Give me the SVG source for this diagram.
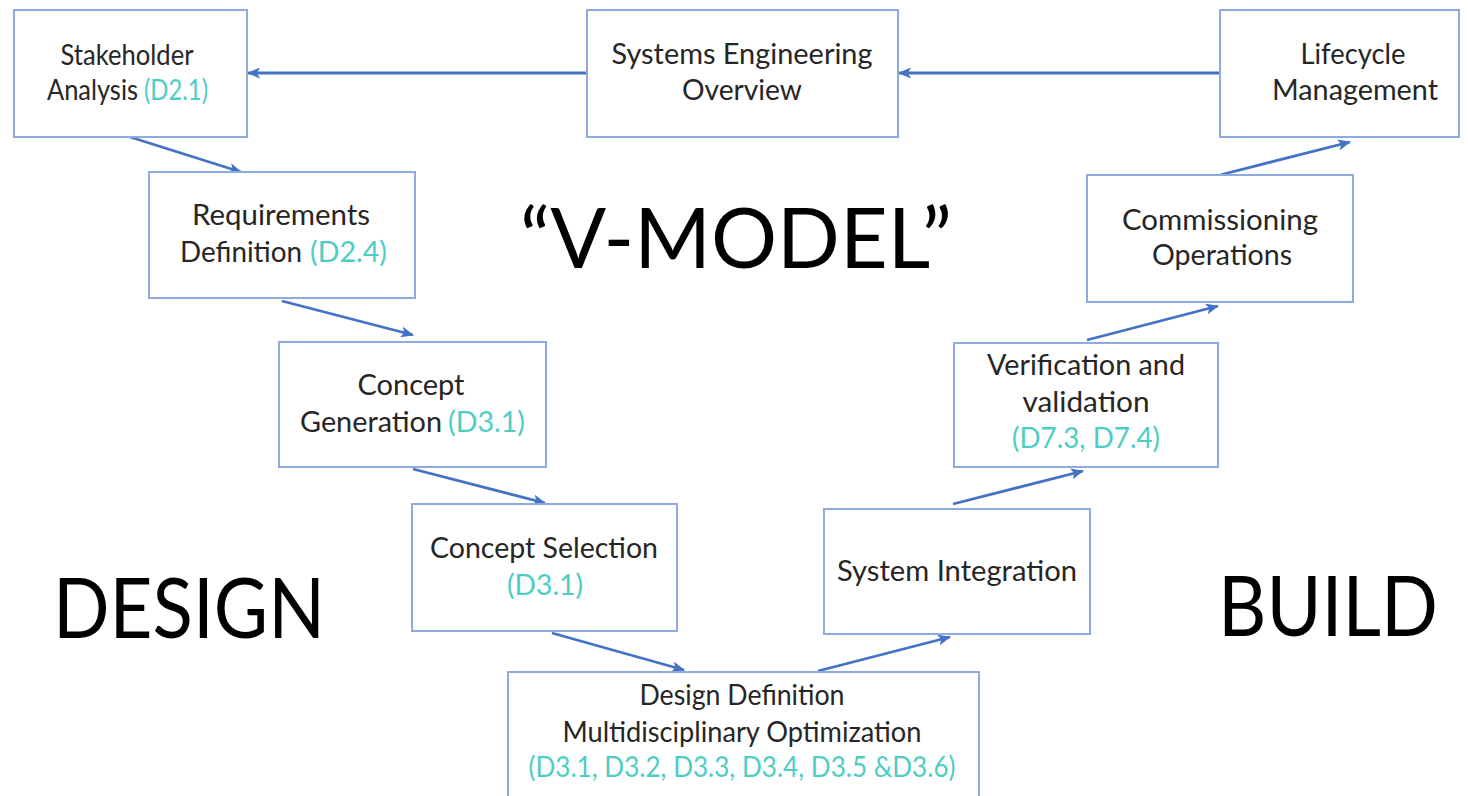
<svg xmlns="http://www.w3.org/2000/svg" width="1468" height="796" viewBox="0 0 1468 796">
  <style>
    .box { fill: #ffffff; stroke: #8faadc; stroke-width: 2; }
    .lbl { font-family: Lato, "Open Sans", "Liberation Sans", sans-serif; font-size: 28px; fill: #262626; text-anchor: middle; }
    .lft { text-anchor: start; }
    .ref { fill: #4ecdc4; }
    .big { font-family: Lato, "Open Sans", "Liberation Sans", sans-serif; font-size: 84px; fill: #000000; }
    .conn { stroke: #4472c4; stroke-width: 2.8; fill: none; marker-end: url(#head); }
  </style>
  <defs>
    <marker id="head" markerUnits="userSpaceOnUse" markerWidth="13" markerHeight="11" refX="12" refY="5.5" orient="auto">
      <path d="M0,0 L13,5.5 L0,11 L3,5.5 z" fill="#4472c4"/>
    </marker>
  </defs>
  <rect width="1468" height="796" fill="#ffffff"/>

  <!-- Section titles -->
  <text class="big" x="736" y="268" text-anchor="middle" textLength="432" lengthAdjust="spacingAndGlyphs">“V-MODEL”</text>
  <text class="big" x="53" y="638" textLength="272" lengthAdjust="spacingAndGlyphs">DESIGN</text>
  <text class="big" x="1218" y="636" textLength="220" lengthAdjust="spacingAndGlyphs">BUILD</text>

  <!-- Connectors -->
  <g id="connectors">
    <line class="conn" x1="587" y1="73" x2="248" y2="73"/>
    <line class="conn" x1="1220" y1="73" x2="899" y2="73"/>
    <line class="conn" x1="130" y1="137" x2="241" y2="172"/>
    <line class="conn" x1="282" y1="301" x2="413" y2="335"/>
    <line class="conn" x1="413" y1="469" x2="545" y2="503"/>
    <line class="conn" x1="552" y1="633" x2="684" y2="670"/>
    <line class="conn" x1="818" y1="671" x2="950" y2="637"/>
    <line class="conn" x1="953" y1="504" x2="1083" y2="471"/>
    <line class="conn" x1="1087" y1="340" x2="1218" y2="306"/>
    <line class="conn" x1="1220" y1="175" x2="1350" y2="142"/>
  </g>

  <!-- Nodes -->
  <g id="stakeholder-analysis">
    <rect class="box" x="14" y="10" width="233" height="127"/>
    <text class="lbl" x="127" y="65" textLength="133" lengthAdjust="spacingAndGlyphs">Stakeholder</text>
    <text class="lbl lft" x="47" y="100" textLength="91" lengthAdjust="spacingAndGlyphs">Analysis</text>
    <text class="lbl lft ref" x="144" y="100" textLength="64" lengthAdjust="spacingAndGlyphs">(D2.1)</text>
  </g>

  <g id="systems-engineering-overview">
    <rect class="box" x="587" y="10" width="311" height="127"/>
    <text class="lbl" x="742" y="64" textLength="261" lengthAdjust="spacingAndGlyphs">Systems Engineering</text>
    <text class="lbl" x="742" y="100" textLength="120" lengthAdjust="spacingAndGlyphs">Overview</text>
  </g>

  <g id="lifecycle-management">
    <rect class="box" x="1220" y="10" width="239" height="127"/>
    <text class="lbl" x="1353" y="64" textLength="105" lengthAdjust="spacingAndGlyphs">Lifecycle</text>
    <text class="lbl" x="1355" y="100" textLength="166" lengthAdjust="spacingAndGlyphs">Management</text>
  </g>

  <g id="requirements-definition">
    <rect class="box" x="149" y="172" width="266" height="126"/>
    <text class="lbl" x="281" y="225" textLength="178" lengthAdjust="spacingAndGlyphs">Requirements</text>
    <text class="lbl lft" x="180" y="262" textLength="122" lengthAdjust="spacingAndGlyphs">Definition</text>
    <text class="lbl lft ref" x="310" y="262" textLength="77" lengthAdjust="spacingAndGlyphs">(D2.4)</text>
  </g>

  <g id="concept-generation">
    <rect class="box" x="279" y="342" width="267" height="125"/>
    <text class="lbl" x="411" y="395" textLength="107" lengthAdjust="spacingAndGlyphs">Concept</text>
    <text class="lbl lft" x="300" y="432" textLength="142" lengthAdjust="spacingAndGlyphs">Generation</text>
    <text class="lbl lft ref" x="448" y="432" textLength="77" lengthAdjust="spacingAndGlyphs">(D3.1)</text>
  </g>

  <g id="concept-selection">
    <rect class="box" x="412" y="504" width="265" height="127"/>
    <text class="lbl" x="544" y="558" textLength="228" lengthAdjust="spacingAndGlyphs">Concept Selection</text>
    <text class="lbl ref" x="545" y="595" textLength="76" lengthAdjust="spacingAndGlyphs">(D3.1)</text>
  </g>

  <g id="design-definition">
    <rect class="box" x="508" y="672" width="471" height="140"/>
    <text class="lbl" x="742" y="705" textLength="205" lengthAdjust="spacingAndGlyphs">Design Definition</text>
    <text class="lbl" x="742" y="742" textLength="359" lengthAdjust="spacingAndGlyphs">Multidisciplinary Optimization</text>
    <text class="lbl ref" x="742" y="777" textLength="427" lengthAdjust="spacingAndGlyphs">(D3.1, D3.2, D3.3, D3.4, D3.5 &amp;D3.6)</text>
  </g>

  <g id="system-integration">
    <rect class="box" x="824" y="509" width="266" height="125"/>
    <text class="lbl" x="957" y="581" textLength="240" lengthAdjust="spacingAndGlyphs">System Integration</text>
  </g>

  <g id="verification-validation">
    <rect class="box" x="954" y="343" width="264" height="124"/>
    <text class="lbl" x="1086" y="375" textLength="198" lengthAdjust="spacingAndGlyphs">Verification and</text>
    <text class="lbl" x="1086" y="412" textLength="127" lengthAdjust="spacingAndGlyphs">validation</text>
    <text class="lbl ref" x="1086" y="448" textLength="148" lengthAdjust="spacingAndGlyphs">(D7.3, D7.4)</text>
  </g>

  <g id="commissioning-operations">
    <rect class="box" x="1087" y="175" width="266" height="127"/>
    <text class="lbl" x="1220" y="230" textLength="196" lengthAdjust="spacingAndGlyphs">Commissioning</text>
    <text class="lbl" x="1222" y="265" textLength="140" lengthAdjust="spacingAndGlyphs">Operations</text>
  </g>
</svg>
